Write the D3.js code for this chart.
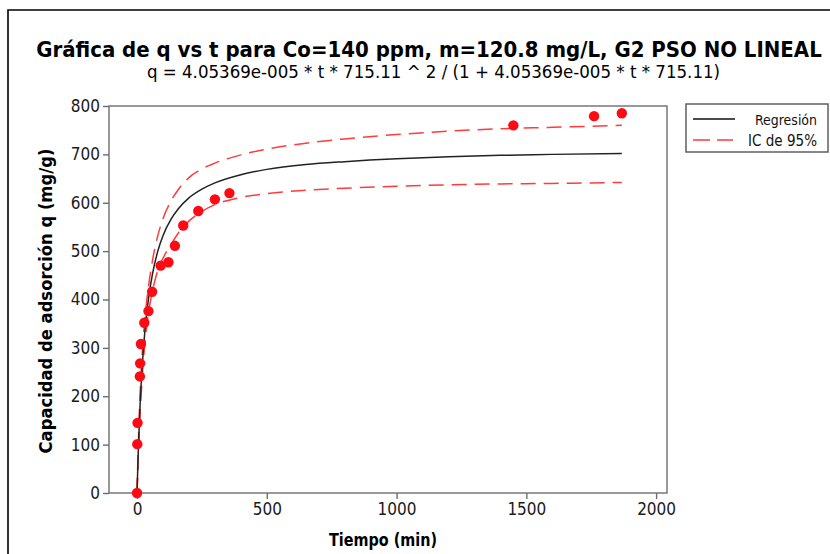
<!DOCTYPE html>
<html><head><meta charset="utf-8">
<script src="https://cdn.jsdelivr.net/npm/d3@7"></script>
<style>body{margin:0;background:#fff} svg{display:block}</style>
</head><body><svg id="c" width="830" height="554"></svg>
<script>
const titleText = "Gráfica de q vs t para Co=140 ppm, m=120.8 mg/L, G2 PSO NO LINEAL";
const subtitleText = "q = 4.05369e-005 * t * 715.11 ^ 2 / (1 + 4.05369e-005 * t * 715.11)";
const xLabel = "Tiempo (min)";
const yLabel = "Capacidad de adsorción q (mg/g)";
const xTicks = [0, 500, 1000, 1500, 2000];
const yTicks = [0, 100, 200, 300, 400, 500, 600, 700, 800];
const legendLabels = ["Regresión", "IC de 95%"];

// observed points
const obsT = [0, 1, 2, 11, 12, 15, 28, 44, 58, 91, 121, 146, 178, 236, 300, 356, 1450, 1761, 1868];
const obsQ = [0, 101, 145, 241, 268, 308, 352, 376, 416, 470, 477, 511, 553, 583, 607, 620, 760, 779, 785];

// regression and 95% band
const fitT   = [0, 5, 10, 20, 30, 45, 60, 80, 100, 130, 160, 200, 250, 300, 400, 500, 650, 800, 1000, 1200, 1400, 1600, 1868];
const fitQ   = [0, 90, 161, 262, 333, 405, 454, 500, 532, 565, 588, 610, 628, 641, 658, 669, 679, 685, 691, 695, 698, 700, 702];
const upperQ = [0, 102, 181, 288, 359, 430, 482, 532, 567, 603, 628, 652, 670, 682, 699, 711, 723, 732, 741, 748, 753, 756, 760];
const lowerQ = [0, 80, 143, 240, 308, 375, 419, 460, 485, 513, 538, 562, 582, 596, 611, 619, 626, 630, 634, 637, 639, 640, 642];

const svg = d3.select("#c");
const x = d3.scaleLinear().domain([-108, 2042]).range([109, 667]);
const y = d3.scaleLinear().domain([0, 800]).range([493, 106]);
const FONT = "'DejaVu Sans', Verdana, sans-serif";
const FONTC = "'DejaVu Sans Condensed', 'DejaVu Sans', sans-serif";

function fitW(sel, w) {
  const n = sel.node();
  const cur = n.getComputedTextLength();
  const fs = parseFloat(sel.attr("font-size"));
  sel.attr("font-size", (fs * w / cur).toFixed(2));
  return sel;
}
function squeeze(sel, w) {
  const cur = sel.node().getComputedTextLength();
  if (cur > w) sel.attr("textLength", w).attr("lengthAdjust", "spacingAndGlyphs");
  else fitW(sel, w);
  return sel;
}

// outer frame
svg.append("path").attr("d", "M8,554V10H830").attr("fill", "none").attr("stroke", "#000").attr("stroke-width", 1.6);

// titles
squeeze(svg.append("text").attr("x", 429).attr("y", 57).attr("text-anchor", "middle")
  .attr("font-family", FONTC).attr("font-weight", "bold").attr("font-size", 21).attr("fill", "#000").text(titleText), 786);
squeeze(svg.append("text").attr("x", 433.5).attr("y", 78).attr("text-anchor", "middle")
  .attr("font-family", FONTC).attr("font-size", 15.5).attr("fill", "#000").text(subtitleText), 573);

// plot frame
svg.append("rect").attr("x", 109).attr("y", 106).attr("width", 558).attr("height", 387)
  .attr("fill", "none").attr("stroke", "#6e6e6e").attr("stroke-width", 1.4);

// axes
const xAxis = d3.axisBottom(x).tickValues(xTicks).tickSize(6).tickPadding(4).tickFormat(d3.format("d"));
const gx = svg.append("g").attr("transform", "translate(0,493)").call(xAxis);
const yAxis = d3.axisLeft(y).tickValues(yTicks).tickSize(6).tickPadding(4).tickFormat(d3.format("d"));
const gy = svg.append("g").attr("transform", "translate(109,0)").call(yAxis);
[gx, gy].forEach(g => {
  g.select(".domain").remove();
  g.selectAll(".tick line").attr("stroke", "#6e6e6e").attr("stroke-width", 1.4);
  g.selectAll(".tick text").attr("font-family", FONTC).attr("font-size", 17).attr("fill", "#1a1a1a");
});
gx.selectAll(".tick text").attr("dy", "0.78em").attr("y", 9);
gy.selectAll(".tick text").attr("x", -9);

// axis labels
squeeze(svg.append("text").attr("x", 383).attr("y", 546).attr("text-anchor", "middle")
  .attr("font-family", FONTC).attr("font-weight", "bold").attr("font-size", 17).attr("fill", "#000").text(xLabel), 108);
squeeze(svg.append("text").attr("transform", "translate(52,301) rotate(-90)").attr("text-anchor", "middle")
  .attr("font-family", FONTC).attr("font-weight", "bold").attr("font-size", 17.5).attr("fill", "#000").text(yLabel), 305);

// lines
const idx = d3.range(fitT.length);
const line = arr => d3.line().x(i => x(fitT[i])).y(i => y(arr[i])).curve(d3.curveMonotoneX)(idx);
svg.append("defs").append("clipPath").attr("id", "pc").append("rect")
  .attr("x", 109).attr("y", 106).attr("width", 558).attr("height", 387);
const pg = svg.append("g").attr("clip-path", "url(#pc)");
pg.append("path").attr("d", line(upperQ)).attr("fill", "none").attr("stroke", "#ff3b3b").attr("stroke-width", 1.5).attr("stroke-dasharray", "15,8");
pg.append("path").attr("d", line(lowerQ)).attr("fill", "none").attr("stroke", "#ff3b3b").attr("stroke-width", 1.5).attr("stroke-dasharray", "15,8");
pg.append("path").attr("d", line(fitQ)).attr("fill", "none").attr("stroke", "#222").attr("stroke-width", 1.5);

// points
svg.append("g").selectAll("circle").data(obsT).join("circle")
  .attr("cx", (d, i) => x(d)).attr("cy", (d, i) => y(obsQ[i])).attr("r", 5.2).attr("fill", "#ff0a14");

// legend
const lg = svg.append("g");
lg.append("rect").attr("x", 686).attr("y", 104).attr("width", 142).attr("height", 48)
  .attr("fill", "#fff").attr("stroke", "#555").attr("stroke-width", 1.4);
lg.append("line").attr("x1", 693).attr("x2", 735).attr("y1", 119).attr("y2", 119).attr("stroke", "#111").attr("stroke-width", 1.5);
lg.append("line").attr("x1", 693).attr("x2", 733).attr("y1", 140).attr("y2", 140).attr("stroke", "#ff3b3b").attr("stroke-width", 1.5).attr("stroke-dasharray", "17,7");
squeeze(lg.append("text").attr("x", 817).attr("y", 125).attr("text-anchor", "end").attr("font-family", FONTC)
  .attr("font-size", 14).attr("fill", "#111").text(legendLabels[0]), 62);
squeeze(lg.append("text").attr("x", 817).attr("y", 146).attr("text-anchor", "end").attr("font-family", FONTC)
  .attr("font-size", 14).attr("fill", "#111").text(legendLabels[1]), 69);
</script></body></html>
